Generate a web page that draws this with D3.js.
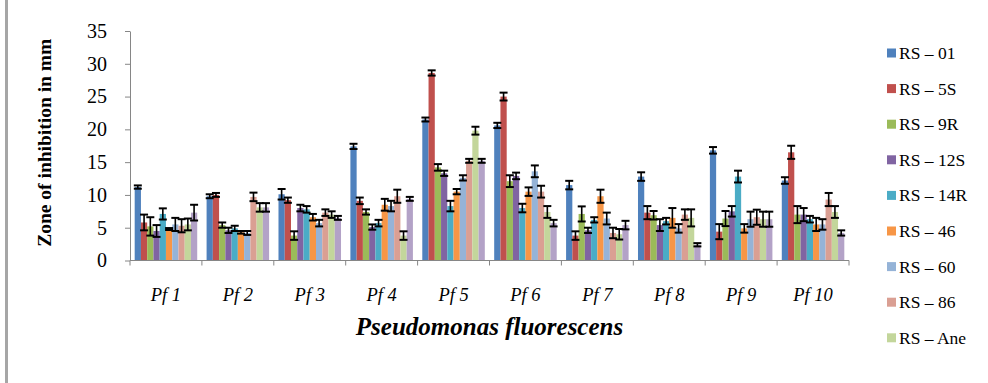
<!DOCTYPE html>
<html>
<head>
<meta charset="utf-8">
<script src="https://cdn.jsdelivr.net/npm/d3@7"></script>
<style>
  html, body { margin: 0; padding: 0; background: #fff; }
  #chart { width: 988px; height: 383px; }
</style>
</head>
<body>
<div id="chart"></div>
<script>
const groups = ["Pf 1", "Pf 2", "Pf 3", "Pf 4", "Pf 5", "Pf 6", "Pf 7", "Pf 8", "Pf 9", "Pf 10"];
const seriesNames = ["RS – 01", "RS – 5S", "RS – 9R", "RS – 12S", "RS – 14R", "RS – 46", "RS – 60", "RS – 86", "RS – Ane", "Series 10"];
const seriesColors = ["#4F81BD", "#C0504D", "#9BBB59", "#8064A2", "#4BACC6", "#F79646", "#95B3D7", "#DA9F93", "#C3D69B", "#B3A2C7"];

// zone of inhibition (mm), one array per isolate, across Pf 1..Pf 10
const rs01  = [11.2, 9.8, 10.1, 17.4, 21.5, 20.6, 11.5, 12.8, 16.8, 12.2];
const rs5S  = [5.8, 10.0, 9.2, 9.1, 28.6, 25.0, 3.8, 7.3, 4.4, 16.5];
const rs9R  = [5.2, 5.4, 3.8, 7.4, 14.2, 12.1, 7.1, 6.9, 6.4, 7.0];
const rs12S = [4.5, 4.6, 8.0, 5.1, 13.3, 12.9, 4.6, 5.4, 7.5, 7.0];
const rs14R = [7.1, 4.9, 7.8, 5.7, 8.3, 8.0, 6.2, 6.0, 12.8, 6.3];
const rs46  = [4.8, 4.3, 6.6, 8.5, 10.5, 10.5, 9.8, 6.5, 4.9, 5.5];
const rs60  = [5.5, 4.2, 5.7, 8.3, 12.6, 13.6, 6.4, 4.9, 6.3, 5.5];
const rs86  = [5.3, 9.7, 7.3, 9.8, 15.2, 10.5, 4.2, 7.0, 6.6, 9.3];
const rsAne = [5.5, 8.1, 7.0, 3.8, 19.8, 7.4, 4.0, 6.5, 6.3, 7.4];
const rs10  = [7.3, 8.1, 6.5, 9.4, 15.2, 5.7, 5.4, 2.4, 6.3, 4.2];

// error bar half-widths (mm)
const err01  = [0.25, 0.3, 0.8, 0.4, 0.3, 0.4, 0.65, 0.65, 0.5, 0.5];
const err5S  = [1.2, 0.3, 0.4, 0.5, 0.4, 0.6, 0.65, 1.0, 1.15, 1.0];
const err9R  = [1.4, 0.4, 0.65, 0.4, 0.5, 0.9, 1.15, 0.65, 1.15, 1.3];
const err12S = [0.9, 0.4, 0.5, 0.4, 0.4, 0.5, 0.4, 0.9, 0.8, 1.0];
const err14R = [0.85, 0.4, 0.5, 0.5, 0.8, 0.65, 0.4, 0.5, 0.9, 0.5];
const err46  = [0.15, 0.2, 0.5, 0.9, 0.4, 0.65, 1.0, 1.5, 0.65, 1.0];
const err60  = [1.0, 0.3, 0.5, 0.8, 0.4, 0.9, 0.9, 0.65, 1.15, 0.8];
const err86  = [1.0, 0.65, 0.5, 1.0, 0.3, 0.9, 0.8, 0.8, 1.15, 1.0];
const errAne = [0.9, 0.65, 0.5, 0.65, 0.6, 0.9, 0.8, 1.3, 1.15, 0.9];
const err10  = [1.2, 0.65, 0.3, 0.3, 0.3, 0.5, 0.65, 0.25, 1.15, 0.4];

const yTicks = [0, 5, 10, 15, 20, 25, 30, 35];

const allValues = [rs01, rs5S, rs9R, rs12S, rs14R, rs46, rs60, rs86, rsAne, rs10];
const allErrors = [err01, err5S, err9R, err12S, err14R, err46, err60, err86, errAne, err10];

let data = [];
groups.forEach((g, gi) => {
  seriesNames.forEach((s, si) => {
    data.push({ group: g, series: s, value: allValues[si][gi], err: allErrors[si][gi], color: seriesColors[si] });
  });
});

const W = 988, H = 383;
const margin = { top: 31, left: 130 };
const plotW = 719, plotH = 229.5;
const serif = "\"Liberation Serif\"";
const axisGray = "#868686";

let svg = d3.select("#chart").append("svg")
  .attr("width", W)
  .attr("height", H)
  .attr("viewBox", [0, 0, W, H]);

// outer frame edge on the left
svg.append("line")
  .attr("x1", 6.5).attr("x2", 6.5)
  .attr("y1", 0).attr("y2", H)
  .style("stroke", "#a6a6a6")
  .style("stroke-width", 3);

let g = svg.append("g").attr("transform", `translate(${margin.left},${margin.top})`);

let x0 = d3.scaleBand().domain(groups).range([0, plotW]);
let x1 = d3.scaleBand().domain(seriesNames).range([0, x0.bandwidth()]).paddingInner(0).paddingOuter(0.75);
let y = d3.scaleLinear().domain([0, 35]).range([plotH, 0]);

// bars
g.selectAll("rect.bar")
  .data(data)
  .enter()
  .append("rect")
  .attr("class", "bar")
  .attr("x", d => x0(d.group) + x1(d.series))
  .attr("y", d => y(d.value))
  .attr("width", x1.bandwidth())
  .attr("height", d => y(0) - y(d.value))
  .style("fill", d => d.color);

// error bars
let eb = g.selectAll("g.err")
  .data(data)
  .enter()
  .append("g")
  .attr("class", "err")
  .attr("transform", d => `translate(${x0(d.group) + x1(d.series) + x1.bandwidth() / 2},0)`);

const capHalf = 4;
eb.append("line")
  .attr("y1", d => y(d.value + d.err))
  .attr("y2", d => y(d.value - d.err))
  .style("stroke", "#000")
  .style("stroke-width", 1.6);
eb.append("line")
  .attr("x1", -capHalf).attr("x2", capHalf)
  .attr("y1", d => y(d.value + d.err))
  .attr("y2", d => y(d.value + d.err))
  .style("stroke", "#000")
  .style("stroke-width", 2);
eb.append("line")
  .attr("x1", -capHalf).attr("x2", capHalf)
  .attr("y1", d => y(d.value - d.err))
  .attr("y2", d => y(d.value - d.err))
  .style("stroke", "#000")
  .style("stroke-width", 2);

// y axis
let yAxis = g.append("g")
  .call(d3.axisLeft(y).tickValues(yTicks).tickSize(5).tickPadding(18).tickSizeOuter(0))
  .attr("font-family", null);
yAxis.selectAll("path, line").style("stroke", axisGray);
yAxis.selectAll("text")
  .style("font-family", serif)
  .style("font-size", "20px")
  .style("fill", "#000");

// x axis: ticks at group boundaries
let xAxis = g.append("g").attr("transform", `translate(0,${plotH})`);
xAxis.append("line")
  .attr("x1", 0).attr("x2", plotW)
  .style("stroke", axisGray);
xAxis.selectAll("line.tick")
  .data(groups.concat(["end"]))
  .enter()
  .append("line")
  .attr("class", "tick")
  .attr("x1", (d, i) => i * x0.step())
  .attr("x2", (d, i) => i * x0.step())
  .attr("y1", 0).attr("y2", 5)
  .style("stroke", axisGray);
xAxis.selectAll("text")
  .data(groups)
  .enter()
  .append("text")
  .attr("x", d => x0(d) + x0.bandwidth() / 2)
  .attr("y", 40)
  .attr("text-anchor", "middle")
  .style("font-family", serif)
  .style("font-style", "italic")
  .style("font-size", "18.5px")
  .text(d => d);

// axis titles
svg.append("text")
  .attr("transform", `translate(51,${margin.top + plotH / 2 - 3}) rotate(-90)`)
  .attr("text-anchor", "middle")
  .style("font-family", serif)
  .style("font-weight", "bold")
  .style("font-size", "19.5px")
  .text("Zone of inhibition in mm");

svg.append("text")
  .attr("x", margin.left + plotW / 2)
  .attr("y", 335)
  .attr("text-anchor", "middle")
  .style("font-family", serif)
  .style("font-weight", "bold")
  .style("font-style", "italic")
  .style("font-size", "25px")
  .text("Pseudomonas fluorescens");

// legend (last entry does not fit, as in the original)
let legend = svg.append("g").attr("transform", "translate(887,53)");
let items = legend.selectAll("g")
  .data(seriesNames.slice(0, 9))
  .enter()
  .append("g")
  .attr("transform", (d, i) => `translate(0,${i * 35.6})`);
items.append("rect")
  .attr("x", 0).attr("y", -4.5)
  .attr("width", 9).attr("height", 9)
  .style("fill", (d, i) => seriesColors[i]);
items.append("text")
  .attr("x", 12)
  .attr("y", 6)
  .style("font-family", serif)
  .style("font-size", "17.5px")
  .text(d => d);
</script>
</body>
</html>
